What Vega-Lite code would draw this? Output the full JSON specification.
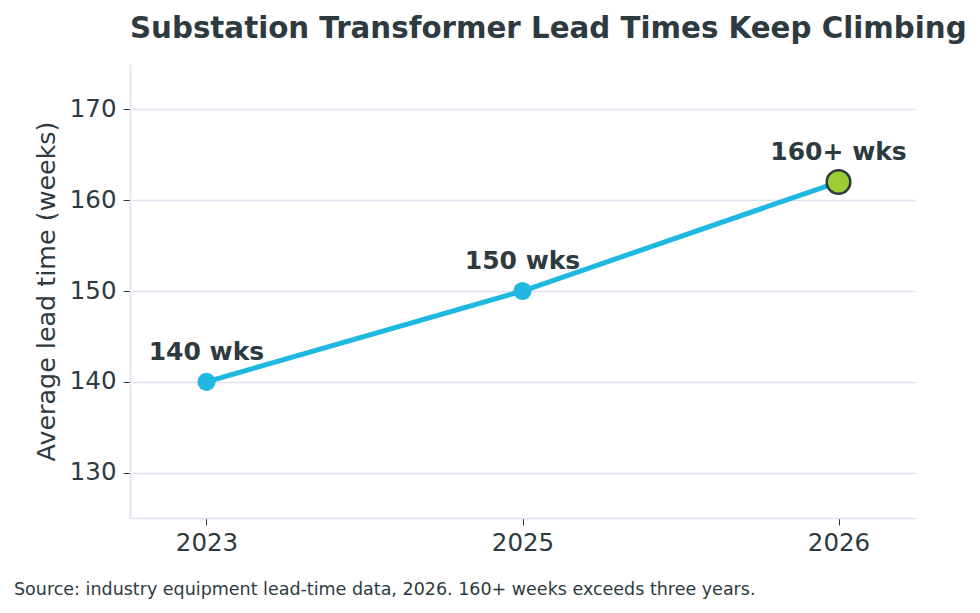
{
  "$schema": "https://vega.github.io/schema/vega-lite/v6.json",
  "width": 785,
  "height": 454,
  "autosize": {"type": "none"},
  "padding": {"left": 130, "top": 64, "right": 65, "bottom": 95},
  "background": "white",
  "config": {
    "font": "DejaVu Sans",
    "view": {"stroke": null}
  },
  "title": {
    "text": "Substation Transformer Lead Times Keep Climbing",
    "anchor": "start",
    "frame": "group",
    "font": "DejaVu Sans",
    "fontSize": 29.3,
    "fontWeight": "bold",
    "color": "#2d3a3f",
    "offset": 20
  },
  "data": {
    "values": [
      {"year": "2023", "weeks": 140, "label": "140 wks", "highlight": "no"},
      {"year": "2025", "weeks": 150, "label": "150 wks", "highlight": "no"},
      {"year": "2026", "weeks": 162, "label": "160+ wks", "highlight": "yes"}
    ]
  },
  "layer": [
    {
      "encoding": {
        "x": {
          "field": "year",
          "type": "ordinal",
          "scale": {"type": "point", "padding": 0.242},
          "axis": {
            "title": null,
            "labelAngle": 0,
            "labelFont": "DejaVu Sans",
            "labelFontSize": 24.5,
            "labelColor": "#2d3a3f",
            "labelPadding": 6,
            "domainColor": "#dde3ee",
            "domainWidth": 1.5,
            "tickColor": "#2d3a3f",
            "tickSize": 7,
            "tickWidth": 1,
            "grid": false
          }
        },
        "y": {
          "field": "weeks",
          "type": "quantitative",
          "scale": {"domain": [125, 175], "nice": false, "zero": false},
          "axis": {
            "title": "Average lead time (weeks)",
            "titleFont": "DejaVu Sans",
            "titleFontSize": 25.4,
            "titleFontWeight": "normal",
            "titleColor": "#2d3a3f",
            "titlePadding": 10,
            "values": [130, 140, 150, 160, 170],
            "labelFont": "DejaVu Sans",
            "labelFontSize": 24.5,
            "labelColor": "#2d3a3f",
            "labelPadding": 7,
            "domainColor": "#dde3ee",
            "domainWidth": 1.5,
            "tickColor": "#2d3a3f",
            "tickSize": 7,
            "tickWidth": 1,
            "grid": true,
            "gridColor": "#dde3ee",
            "gridWidth": 1.5
          }
        }
      },
      "layer": [
        {
          "mark": {"type": "line", "color": "#1fb8e0", "strokeWidth": 5}
        },
        {
          "transform": [{"filter": "datum.highlight == 'no'"}],
          "mark": {"type": "circle", "size": 330, "color": "#22b7e0", "opacity": 1}
        },
        {
          "transform": [{"filter": "datum.highlight == 'yes'"}],
          "mark": {"type": "circle", "size": 560, "fill": "#9acd32", "stroke": "#2d3a3f", "strokeWidth": 2.5, "opacity": 1}
        },
        {
          "mark": {"type": "text", "font": "DejaVu Sans", "fontSize": 25, "fontWeight": "bold", "color": "#2d3a3f", "dy": -30, "baseline": "middle"},
          "encoding": {"text": {"field": "label"}}
        }
      ]
    },
    {
      "data": {"values": [{"note": "Source: industry equipment lead-time data, 2026. 160+ weeks exceeds three years."}]},
      "mark": {"type": "text", "font": "DejaVu Sans", "fontSize": 17.5, "color": "#2d3a3f", "align": "left", "baseline": "middle"},
      "encoding": {
        "text": {"field": "note"},
        "x": {"value": -116},
        "y": {"value": 526}
      }
    }
  ]
}
